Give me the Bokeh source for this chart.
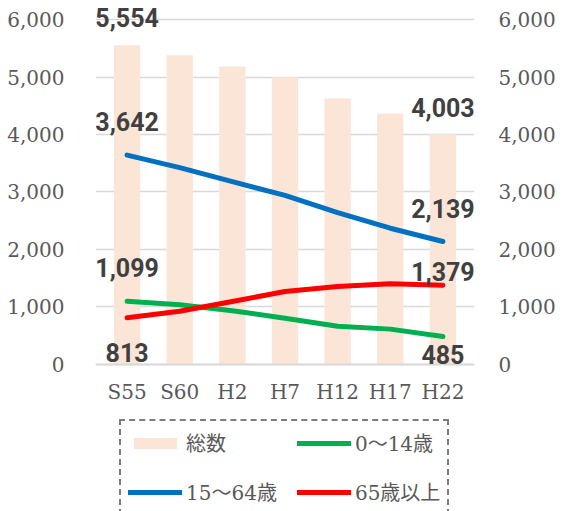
from bokeh.plotting import figure
from bokeh.models import (ColumnDataSource, Range1d, FactorRange, LinearAxis, FixedTicker,
                          NumeralTickFormatter, LabelSet, Legend, LegendItem, Span)
from bokeh.core.properties import value
from bokeh.embed import file_html
from bokeh.resources import INLINE

# ---- data ----
categories = ["S55", "S60", "H2", "H7", "H12", "H17", "H22"]
total = [5554, 5378, 5183, 4995, 4626, 4365, 4003]
age_0_14 = [1099, 1040, 935, 805, 665, 615, 485]
age_15_64 = [3642, 3425, 3180, 2940, 2640, 2370, 2139]
age_65_over = [813, 925, 1095, 1270, 1355, 1405, 1379]
y_ticks = [0, 1000, 2000, 3000, 4000, 5000, 6000]

series_names = ["総数", "0～14歳", "15～64歳", "65歳以上"]

# data labels: (category, value) pairs taken from the series above
label_cats = ["S55", "H22", "S55", "H22", "S55", "H22", "S55", "H22"]
label_vals = [total[0], total[-1], age_15_64[0], age_15_64[-1],
              age_0_14[0], age_65_over[-1], age_65_over[0], age_0_14[-1]]
label_offsets = [28, 27, 34, 33, 34, 14, -35, -18]

src = ColumnDataSource(dict(x=categories, total=total, a=age_0_14, b=age_15_64, c=age_65_over))

p = figure(width=563, height=511,
           x_range=FactorRange(*categories, range_padding=0.1, range_padding_units="absolute"),
           y_range=Range1d(-2557, 6261), output_backend="svg", toolbar_location=None,
           min_border_left=95, min_border_right=89, min_border_top=4, min_border_bottom=0)
p.outline_line_color = None
p.xgrid.grid_line_color = None
p.ygrid.grid_line_color = "#D9D9D9"
p.ygrid.grid_line_width = 1.5
p.ygrid.ticker = FixedTicker(ticks=y_ticks)
p.xaxis.visible = False

bar = p.vbar(x="x", top="total", width=0.5, source=src, fill_color="#FBE5D6", line_color=None)
lg = p.line(x="x", y="a", source=src, line_color="#00B050", line_width=5, line_cap="round", line_join="round")
lb = p.line(x="x", y="b", source=src, line_color="#0070C0", line_width=5, line_cap="round", line_join="round")
lr = p.line(x="x", y="c", source=src, line_color="#FF0000", line_width=5, line_cap="round", line_join="round")

# category axis: baseline + category labels under it
p.add_layout(Span(location=0, dimension="width", line_color="#D9D9D9", line_width=2))
tick_font = "DejaVu Serif"
xsrc = ColumnDataSource(dict(x=categories, y=[0] * len(categories)))
p.add_layout(LabelSet(x="x", y="y", text="x", y_offset=-28, source=xsrc,
                      text_align="center", text_baseline="middle",
                      text_font=value(tick_font), text_font_size="20px", text_color="#595959"))

p.yaxis.ticker = FixedTicker(ticks=y_ticks)
p.yaxis.formatter = NumeralTickFormatter(format="0,0")
p.yaxis.axis_line_color = None
p.yaxis.major_tick_line_color = None
p.yaxis.minor_tick_line_color = None
p.yaxis.major_label_text_font = tick_font
p.yaxis.major_label_text_font_size = "20px"
p.yaxis.major_label_text_color = "#595959"
p.yaxis.major_label_standoff = 25

right = LinearAxis(ticker=FixedTicker(ticks=y_ticks), formatter=NumeralTickFormatter(format="0,0"),
                   axis_line_color=None, major_tick_line_color=None, minor_tick_line_color=None,
                   major_label_text_font=tick_font, major_label_text_font_size="20px",
                   major_label_text_color="#595959", major_label_standoff=18)
p.add_layout(right, "right")

# data labels
lsrc = ColumnDataSource(dict(x=label_cats, y=label_vals,
                             t=[f"{v:,}" for v in label_vals], off=label_offsets))
labels = LabelSet(x="x", y="y", text="t", y_offset="off", source=lsrc,
                  text_align="center", text_baseline="middle",
                  text_font=value("Roboto"), text_font_style="bold",
                  text_font_size="25px", text_color="#404040")
p.add_layout(labels)

legend = Legend(items=[LegendItem(label=series_names[0], renderers=[bar]),
                       LegendItem(label=series_names[1], renderers=[lg]),
                       LegendItem(label=series_names[2], renderers=[lb]),
                       LegendItem(label=series_names[3], renderers=[lr])],
                orientation="horizontal", ncols=2, location=(24, -4),
                border_line_color="#000000", border_line_width=2, border_line_dash="12 4 3 4",
                padding=7, spacing=20, margin=0, glyph_width=54, glyph_height=14,
                label_height=28, label_standoff=4,
                label_text_font="DejaVu Serif, Noto Sans CJK JP", label_text_font_size="20px",
                label_text_color="#595959", background_fill_alpha=1)
p.add_layout(legend, "center")

open("out.html", "w").write(file_html(p, INLINE))
